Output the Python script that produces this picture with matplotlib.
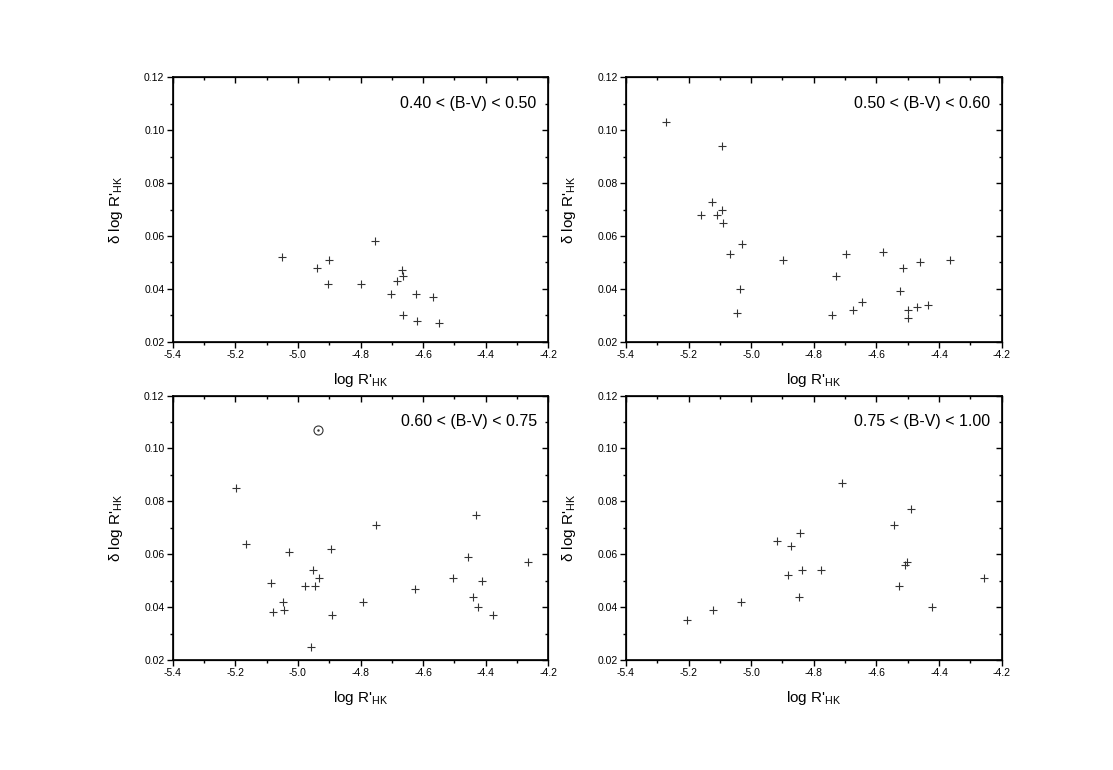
import matplotlib
matplotlib.use('Agg')
import matplotlib.pyplot as plt
from matplotlib.ticker import MultipleLocator

plt.rcParams['font.family'] = ['Liberation Sans', 'DejaVu Sans']

# panel data: (log R'HK, delta log R'HK)
labels = ['0.40 < (B-V) < 0.50', '0.50 < (B-V) < 0.60',
          '0.60 < (B-V) < 0.75', '0.75 < (B-V) < 1.00']

x1 = [-5.05, -4.94, -4.90, -4.905, -4.80, -4.753, -4.669, -4.665, -4.682,
      -4.704, -4.624, -4.567, -4.663, -4.621, -4.548]
y1 = [0.052, 0.048, 0.051, 0.042, 0.042, 0.058, 0.047, 0.045, 0.043,
      0.038, 0.038, 0.037, 0.030, 0.028, 0.027]

x2 = [-5.272, -5.092, -5.125, -5.161, -5.110, -5.094, -5.090, -5.028, -5.069,
      -5.036, -5.046, -4.897, -4.729, -4.697, -4.742, -4.675, -4.647, -4.579,
      -4.515, -4.460, -4.364, -4.524, -4.498, -4.498, -4.471, -4.435]
y2 = [0.103, 0.094, 0.073, 0.068, 0.068, 0.070, 0.065, 0.057, 0.053,
      0.040, 0.031, 0.051, 0.045, 0.053, 0.030, 0.032, 0.035, 0.054,
      0.048, 0.050, 0.051, 0.039, 0.032, 0.029, 0.033, 0.034]

x3 = [-5.198, -5.167, -5.029, -5.085, -5.080, -5.049, -5.046, -4.953, -4.976,
      -4.944, -4.932, -4.893, -4.892, -4.958, -4.791, -4.752, -4.627, -4.505,
      -4.456, -4.432, -4.411, -4.442, -4.425, -4.377, -4.265]
y3 = [0.085, 0.064, 0.061, 0.049, 0.038, 0.042, 0.039, 0.054, 0.048,
      0.048, 0.051, 0.062, 0.037, 0.025, 0.042, 0.071, 0.047, 0.051,
      0.059, 0.075, 0.050, 0.044, 0.040, 0.037, 0.057]
# the sun, drawn as a circled dot
sun_x = [-4.937]
sun_y = [0.107]

x4 = [-5.206, -5.121, -5.033, -4.919, -4.872, -4.845, -4.882, -4.837, -4.848,
      -4.776, -4.710, -4.544, -4.488, -4.510, -4.503, -4.527, -4.422, -4.256]
y4 = [0.035, 0.039, 0.042, 0.065, 0.063, 0.068, 0.052, 0.054, 0.044,
      0.054, 0.087, 0.071, 0.077, 0.056, 0.057, 0.048, 0.040, 0.051]

xs = [x1, x2, x3, x4]
ys = [y1, y2, y3, y4]

fig = plt.figure(figsize=(11.13, 7.7), dpi=100)
lefts = [0.1552, 0.5624, 0.1552, 0.5624]
bottoms = [0.5562, 0.5562, 0.1429, 0.1429]
w, h = 0.3375, 0.3434

for i in range(4):
    ax = fig.add_axes([lefts[i], bottoms[i], w, h])
    ax.plot(xs[i], ys[i], '+', color='#333333', markersize=6, markeredgewidth=0.8)
    if i == 2:
        ax.plot(sun_x, sun_y, 'o', mfc='none', mec='#333333', markersize=6.5, markeredgewidth=0.8)
        ax.plot(sun_x, sun_y, '.', color='#333333', markersize=1.5)
    ax.set_xlim(-5.4, -4.2)
    ax.set_ylim(0.02, 0.12)
    ax.xaxis.set_major_locator(MultipleLocator(0.2))
    ax.xaxis.set_minor_locator(MultipleLocator(0.1))
    ax.yaxis.set_major_locator(MultipleLocator(0.02))
    ax.yaxis.set_minor_locator(MultipleLocator(0.01))
    ax.xaxis.set_major_formatter(plt.FormatStrFormatter('%.1f'))
    ax.yaxis.set_major_formatter(plt.FormatStrFormatter('%.2f'))
    for s in ax.spines.values():
        s.set_linewidth(1.2)
    # left/bottom ticks out, mirrored ticks on top/right point in
    ax.tick_params(which='both', direction='out', width=1.0, labelsize=7.5, pad=2,
                   top=False, right=False)
    ax.tick_params(which='major', length=4)
    ax.tick_params(which='minor', length=2.5)
    ax2 = ax.twinx()
    ax2.set_ylim(ax.get_ylim())
    ax2.yaxis.set_major_locator(MultipleLocator(0.02))
    ax2.yaxis.set_minor_locator(MultipleLocator(0.01))
    ax2.tick_params(which='both', direction='in', labelright=False, width=1.0)
    ax2.tick_params(which='major', length=4)
    ax2.tick_params(which='minor', length=2.5)
    ax3 = ax.twiny()
    ax3.set_xlim(ax.get_xlim())
    ax3.xaxis.set_major_locator(MultipleLocator(0.2))
    ax3.xaxis.set_minor_locator(MultipleLocator(0.1))
    ax3.tick_params(which='both', direction='in', labeltop=False, width=1.0)
    ax3.tick_params(which='major', length=4)
    ax3.tick_params(which='minor', length=2.5)
    ax.set_xlabel(r"log R'$_{\mathregular{HK}}$", fontsize=11, labelpad=8)
    ax.set_ylabel(r"δ log R'$_{\mathregular{HK}}$", fontsize=11, labelpad=14)
    ax.text(0.969, 0.902, labels[i], transform=ax.transAxes, ha='right', va='center',
            fontsize=11.5)

fig.savefig('out.png', dpi=100)
